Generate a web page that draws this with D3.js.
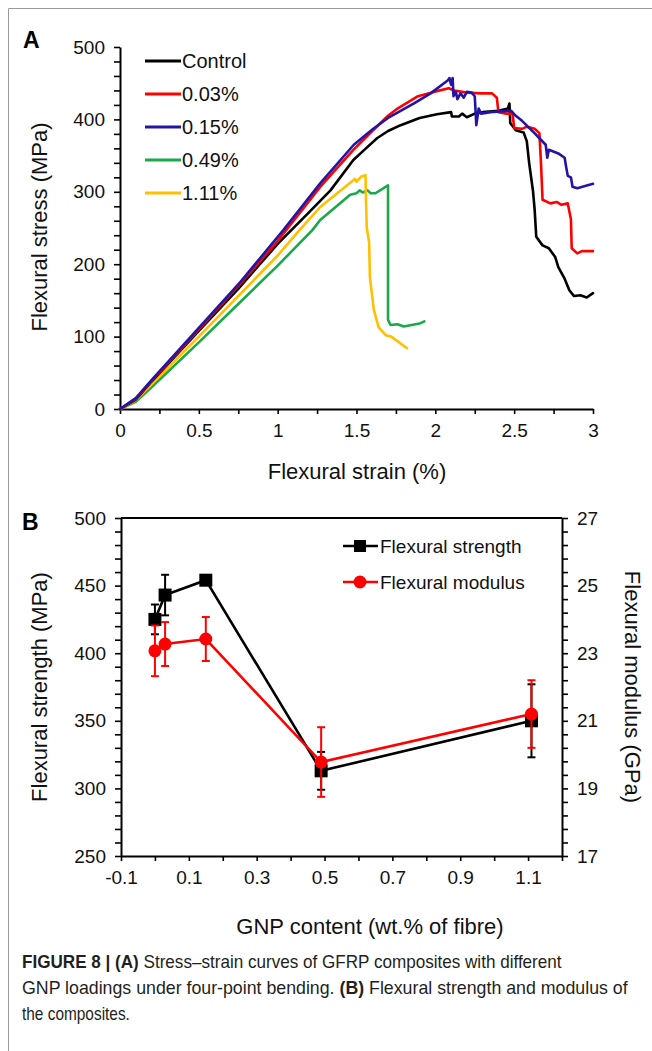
<!DOCTYPE html>
<html>
<head>
<meta charset="utf-8">
<script src="https://cdn.jsdelivr.net/npm/d3@7"></script>
<style>
  html, body { margin: 0; padding: 0; background: #fff; }
  svg { display: block; }
  text { font-family: "Liberation Sans", Arial, sans-serif; }
</style>
</head>
<body>
<svg id="chart" width="652" height="1051"></svg>
<script>
// ---------- Panel A data: stress–strain curves [strain %, stress MPa] ----------
const seriesNamesA = ["Control", "0.03%", "0.15%", "0.49%", "1.11%"];
const curveControl = [[0,0],[0.1,13],[0.2,38],[0.5,108],[0.75,166],[1.0,228],[1.2,272],[1.335,302],[1.48,344],[1.56,360],[1.63,374],[1.7,384],[1.78,392],[1.9,402],[2.01,407],[2.1,410],[2.105,404],[2.15,404],[2.17,408],[2.2,403],[2.25,408],[2.3,410],[2.4,412],[2.46,415],[2.47,422],[2.475,395],[2.51,385],[2.56,382],[2.58,370],[2.595,340],[2.62,300],[2.63,275],[2.64,238],[2.68,226],[2.72,222],[2.76,210],[2.78,196],[2.82,180],[2.85,164],[2.88,156],[2.92,157],[2.96,154],[3.0,160]];
const curve003 = [[0,0],[0.1,14],[0.2,39],[0.5,110],[0.75,170],[1.0,232],[1.271,307],[1.48,358],[1.6,384],[1.7,405],[1.76,415],[1.89,432],[1.99,438],[2.085,443],[2.12,440],[2.2,437],[2.29,436],[2.36,436],[2.39,430],[2.40,410],[2.45,408],[2.49,408],[2.50,388],[2.55,387],[2.58,390],[2.63,387],[2.66,381],[2.67,340],[2.68,289],[2.73,284],[2.77,286],[2.80,282],[2.84,284],[2.86,262],[2.865,222],[2.9,215],[2.93,218],[2.98,218],[3.0,218]];
const curve015 = [[0,0],[0.1,15],[0.2,40],[0.5,112],[0.75,172],[1.036,247],[1.271,312],[1.483,365],[1.6,386],[1.70,402],[1.865,422],[1.97,436],[2.08,454],[2.09,457],[2.10,448],[2.11,457],[2.115,432],[2.13,438],[2.14,428],[2.16,436],[2.18,430],[2.20,438],[2.23,437],[2.25,432],[2.26,392],[2.275,415],[2.29,408],[2.35,410],[2.48,412],[2.51,405],[2.55,398],[2.587,390],[2.62,383],[2.66,374],[2.70,365],[2.71,347],[2.72,358],[2.78,353],[2.82,347],[2.83,334],[2.84,322],[2.86,320],[2.87,307],[2.9,305],[2.95,308],[3.0,311]];
const curve049 = [[0,0],[0.1,10],[0.2,30],[0.5,92],[0.75,145],[1.0,198],[1.22,247],[1.27,261],[1.46,296],[1.5,298],[1.52,302],[1.54,299],[1.57,302],[1.59,298],[1.62,298],[1.70,309],[1.70,123],[1.716,116],[1.76,117],[1.80,114],[1.85,116],[1.90,118],[1.93,121]];
const curve111 = [[0,0],[0.1,12],[0.2,34],[0.5,100],[0.75,156],[1.0,212],[1.13,245],[1.27,279],[1.48,316],[1.49,318],[1.50,314],[1.53,321],[1.557,323],[1.56,290],[1.565,251],[1.58,230],[1.585,182],[1.61,137],[1.64,113],[1.685,102],[1.72,100],[1.77,92],[1.82,84]];
const colorsA = ["#000000", "#ff0000", "#2414a6", "#19a84a", "#ffc000"];
const xTicksA = [0,0.25,0.5,0.75,1,1.25,1.5,1.75,2,2.25,2.5,2.75,3];
const xLabelsA = ["0","","0.5","","1","","1.5","","2","","2.5","","3"];
const yTicksA = [0,20,40,60,80,100,120,140,160,180,200,220,240,260,280,300,320,340,360,380,400,420,440,460,480,500];

// ---------- Panel B data ----------
const gnpContent = [0, 0.03, 0.15, 0.49, 1.11];
const strength = [425, 443, 454, 313, 350];
const strengthErr = [11, 15, 2, 14, 27];
const modulus = [23.07, 23.27, 23.42, 19.78, 21.2];
const modulusErr = [0.75, 0.65, 0.65, 1.03, 1.0];
const xTicksB = [-0.1,0,0.1,0.2,0.3,0.4,0.5,0.6,0.7,0.8,0.9,1.0,1.1,1.2];
const xLabelsB = ["-0.1","","0.1","","0.3","","0.5","","0.7","","0.9","","1.1",""];
const yTicksB = d3.range(250, 500.1, 10);
const yTicksR = d3.range(17, 27.01, 0.4);

const svg = d3.select("#chart");

// frame
svg.append("line").attr("x1", 8.5).attr("x2", 652).attr("y1", 8.5).attr("y2", 8.5).attr("stroke", "#9a9a9a").attr("stroke-width", 1);
svg.append("line").attr("x1", 8.5).attr("x2", 8.5).attr("y1", 8.5).attr("y2", 1051).attr("stroke", "#9a9a9a").attr("stroke-width", 1);

const tickFont = 19;
const titleFont = 22;

function styleAxis(a) {
  a.select(".domain").attr("stroke", "#000").attr("stroke-width", 2);
  a.selectAll(".tick line").attr("stroke", "#000").attr("stroke-width", 1.6);
  a.selectAll(".tick text").attr("font-size", tickFont).attr("fill", "#111")
    .style("font-family", '"Liberation Sans", Arial, sans-serif');
}

// ================= Panel A =================
const xA = d3.scaleLinear().domain([0, 3]).range([120, 593]);
const yA = d3.scaleLinear().domain([0, 500]).range([409, 47]);

const gA = svg.append("g");
const xAxisA = gA.append("g").attr("transform", `translate(0,${yA(0)})`)
  .call(d3.axisBottom(xA).tickValues(xTicksA).tickSize(5).tickSizeOuter(0).tickPadding(10)
    .tickFormat((d, i) => xLabelsA[i]));
const yAxisA = gA.append("g").attr("transform", `translate(${xA(0)},0)`)
  .call(d3.axisLeft(yA).tickValues(yTicksA).tickSize(6).tickSizeOuter(0).tickPadding(9)
    .tickFormat(d => d % 100 === 0 ? d : ""));
styleAxis(xAxisA); styleAxis(yAxisA);

const lineA = d3.line().x(d => xA(d[0])).y(d => yA(d[1]));
const curvesA = [curveControl, curve003, curve015, curve049, curve111];
[3, 4, 0, 1, 2].forEach(i => {
  gA.append("path").datum(curvesA[i]).attr("d", lineA)
    .attr("fill", "none").attr("stroke", colorsA[i]).attr("stroke-width", 2.6)
    .attr("stroke-linejoin", "round").attr("stroke-linecap", "round");
});

// legend A
seriesNamesA.forEach((name, i) => {
  const y = 61 + i * 33;
  gA.append("line").attr("x1", 145).attr("x2", 181).attr("y1", y).attr("y2", y)
    .attr("stroke", colorsA[i]).attr("stroke-width", 3);
  gA.append("text").attr("x", 182).attr("y", y).attr("dy", "0.36em")
    .attr("font-size", 20).attr("fill", "#111").text(name);
});

gA.append("text").attr("x", 357).attr("y", 479).attr("text-anchor", "middle")
  .attr("font-size", titleFont).attr("fill", "#111").text("Flexural strain (%)");
gA.append("text").attr("transform", "translate(47,227) rotate(-90)").attr("text-anchor", "middle")
  .attr("font-size", titleFont).attr("fill", "#111").text("Flexural stress (MPa)");
svg.append("text").attr("x", 23).attr("y", 48).attr("font-size", 23).attr("font-weight", "bold").text("A");

// ================= Panel B =================
const xB = d3.scaleLinear().domain([-0.1, 1.2]).range([121, 562]);
const yB = d3.scaleLinear().domain([250, 500]).range([856, 518]);
const yR = d3.scaleLinear().domain([17, 27]).range([856, 518]);
const gB = svg.append("g");

const xAxisB = gB.append("g").attr("transform", `translate(0,${yB(250)})`)
  .call(d3.axisBottom(xB).tickValues(xTicksB).tickSize(5).tickSizeOuter(0).tickPadding(10)
    .tickFormat((d, i) => xLabelsB[i]));
const yAxisB = gB.append("g").attr("transform", `translate(${xB(-0.1)},0)`)
  .call(d3.axisLeft(yB).tickValues(yTicksB).tickSize(6).tickSizeOuter(0).tickPadding(9)
    .tickFormat(d => d % 50 === 0 ? d : ""));
const yAxisR = gB.append("g").attr("transform", `translate(${xB(1.2)},0)`)
  .call(d3.axisRight(yR).tickValues(yTicksR).tickSize(6).tickSizeOuter(0).tickPadding(9)
    .tickFormat(d => (Math.abs(d - Math.round(d)) < 1e-6 && Math.round(d) % 2 === 1) ? Math.round(d) : ""));
styleAxis(xAxisB); styleAxis(yAxisB); styleAxis(yAxisR);
gB.append("line").attr("x1", xB(-0.1)).attr("x2", xB(1.2)).attr("y1", yB(500)).attr("y2", yB(500))
  .attr("stroke", "#000").attr("stroke-width", 2);

function errBars(vals, errs, scale, color) {
  gnpContent.forEach((x, i) => {
    const cx = xB(x), y1 = scale(vals[i] + errs[i]), y2 = scale(vals[i] - errs[i]);
    gB.append("line").attr("x1", cx).attr("x2", cx).attr("y1", y1).attr("y2", y2).attr("stroke", color).attr("stroke-width", 2);
    [y1, y2].forEach(y => gB.append("line").attr("x1", cx - 4).attr("x2", cx + 4).attr("y1", y).attr("y2", y).attr("stroke", color).attr("stroke-width", 2));
  });
}
errBars(strength, strengthErr, yB, "#000");
const lineS = d3.line().x((d, i) => xB(gnpContent[i])).y(d => yB(d));
gB.append("path").datum(strength).attr("d", lineS).attr("fill", "none").attr("stroke", "#000").attr("stroke-width", 2.6);
gB.selectAll(".sq").data(strength).join("rect")
  .attr("x", (d, i) => xB(gnpContent[i]) - 6.5).attr("y", d => yB(d) - 6.5)
  .attr("width", 13).attr("height", 13).attr("fill", "#000");

errBars(modulus, modulusErr, yR, "#ff0000");
const lineM = d3.line().x((d, i) => xB(gnpContent[i])).y(d => yR(d));
gB.append("path").datum(modulus).attr("d", lineM).attr("fill", "none").attr("stroke", "#ff0000").attr("stroke-width", 2.6);
gB.selectAll(".ci").data(modulus).join("circle")
  .attr("cx", (d, i) => xB(gnpContent[i])).attr("cy", d => yR(d)).attr("r", 6.5).attr("fill", "#ff0000");

// legend B
const legB = [["Flexural strength", "#000", "square"], ["Flexural modulus", "#ff0000", "circle"]];
legB.forEach((e, i) => {
  const y = 546 + i * 36;
  gB.append("line").attr("x1", 343).attr("x2", 378).attr("y1", y).attr("y2", y).attr("stroke", e[1]).attr("stroke-width", 2.6);
  if (e[2] === "square") gB.append("rect").attr("x", 354).attr("y", y - 6).attr("width", 12).attr("height", 12).attr("fill", e[1]);
  else gB.append("circle").attr("cx", 360).attr("cy", y).attr("r", 6.5).attr("fill", e[1]);
  gB.append("text").attr("x", 380).attr("y", y).attr("dy", "0.36em").attr("font-size", 19).attr("fill", "#111").text(e[0]);
});

gB.append("text").attr("x", 370).attr("y", 934).attr("text-anchor", "middle")
  .attr("font-size", titleFont).attr("fill", "#111").text("GNP content (wt.% of fibre)");
gB.append("text").attr("transform", "translate(47,687) rotate(-90)").attr("text-anchor", "middle")
  .attr("font-size", titleFont).attr("fill", "#111").text("Flexural strength (MPa)");
gB.append("text").attr("transform", "translate(625,687) rotate(90)").attr("text-anchor", "middle")
  .attr("font-size", titleFont).attr("fill", "#111").text("Flexural modulus (GPa)");
svg.append("text").attr("x", 22).attr("y", 530).attr("font-size", 23).attr("font-weight", "bold").text("B");

// ================= Caption =================
const captionLines = [
  [["FIGURE 8 | ", true], ["(A)", true], [" Stress\u2013strain curves of GFRP composites with different", false]],
  [["GNP loadings under four-point bending. ", false], ["(B)", true], [" Flexural strength and modulus of", false]],
  [["the composites.", false]]
];
const captionWidths = [540, 606, 108];
captionLines.forEach((parts, li) => {
  const g = svg.append("g");
  const t = g.append("text").attr("x", 0).attr("y", 0).attr("font-size", 18.5).attr("fill", "#231f20");
  parts.forEach(p => t.append("tspan").attr("font-weight", p[1] ? "bold" : "normal").text(p[0]));
  const w = t.node().getComputedTextLength();
  const sx = Math.min(1, captionWidths[li] / w);
  g.attr("transform", `translate(22,${968 + li * 26}) scale(${sx},1)`);
});
</script>
</body>
</html>
